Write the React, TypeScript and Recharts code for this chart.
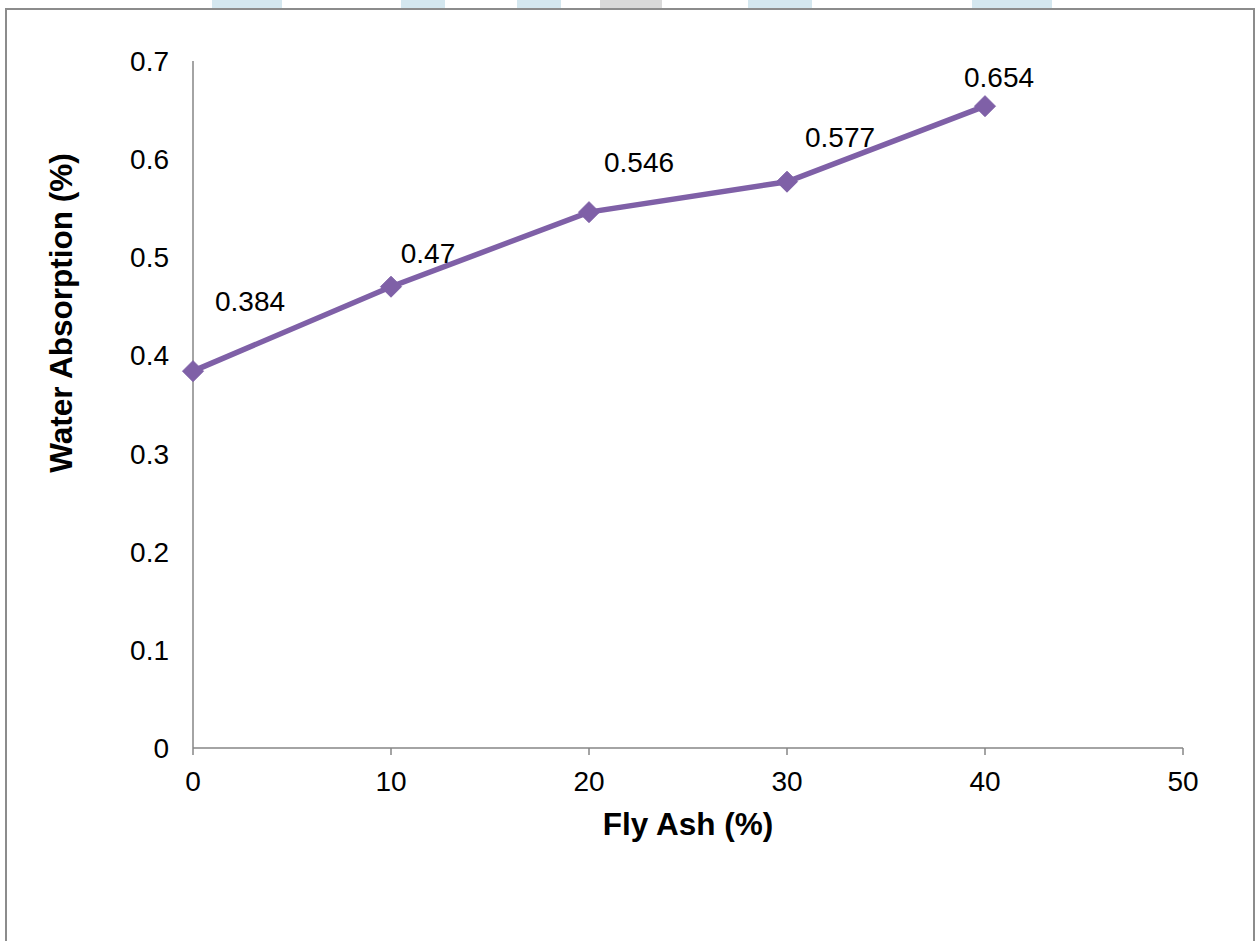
import React from "react";
import { LineChart, Line, XAxis, YAxis, LabelList, Label } from "recharts";

// Fly ash replacement (%) and measured water absorption (%)
const flyAsh = [0, 10, 20, 30, 40];
const waterAbsorption = [0.384, 0.47, 0.546, 0.577, 0.654];

const xTicks = [0, 10, 20, 30, 40, 50];
const yTicks = [0, 0.1, 0.2, 0.3, 0.4, 0.5, 0.6, 0.7];
const yTickLabels = ["0", "0.1", "0.2", "0.3", "0.4", "0.5", "0.6", "0.7"];

const xTitle = "Fly Ash (%)";
const yTitle = "Water Absorption (%)";

const data = flyAsh.map((x, i) => ({ flyAsh: x, water: waterAbsorption[i] }));

// Hand-placed data label offsets (label centre relative to the point)
const labelOffsets: [number, number][] = [
  [57, -70],
  [37, -33],
  [50, -50],
  [53, -44],
  [14, -29],
];

const PURPLE = "#7F60A7";
const AXIS = "#868686";
const FONT = "Arial, 'Liberation Sans', sans-serif";

const Diamond = (props: any) => {
  const { cx, cy } = props;
  if (cx == null || cy == null) return null;
  const r = 10.5;
  return (
    <polygon
      points={`${cx},${cy - r} ${cx + r},${cy} ${cx},${cy + r} ${cx - r},${cy}`}
      fill={PURPLE}
      stroke={PURPLE}
      strokeWidth={1}
    />
  );
};

const DataLabel = (props: any) => {
  const { x, y, value, index } = props;
  const [dx, dy] = labelOffsets[index] || [0, -20];
  return (
    <text
      x={x + dx}
      y={y + dy}
      textAnchor="middle"
      dominantBaseline="central"
      fontFamily={FONT}
      fontSize={28}
      fill="#000"
    >
      {String(value)}
    </text>
  );
};

const topBlocks = [
  { left: 212, width: 70, color: "#d4e7ef" },
  { left: 401, width: 44, color: "#d4e7ef" },
  { left: 517, width: 44, color: "#d4e7ef" },
  { left: 600, width: 62, color: "#d9d9d9" },
  { left: 748, width: 64, color: "#d4e7ef" },
  { left: 972, width: 80, color: "#d4e7ef" },
];

export default function App() {
  return (
    <div
      style={{
        position: "absolute",
        left: 0,
        top: 0,
        width: 1257,
        height: 941,
        background: "#fff",
        overflow: "hidden",
      }}
    >
      {topBlocks.map((b, i) => (
        <div
          key={i}
          style={{
            position: "absolute",
            top: 0,
            left: b.left,
            width: b.width,
            height: 8,
            background: b.color,
          }}
        />
      ))}
      <div
        style={{
          position: "absolute",
          left: 5,
          top: 8,
          width: 1246,
          height: 960,
          border: "2px solid #8c8c8c",
        }}
      />
      <div style={{ position: "absolute", left: 0, top: 0 }}>
        <LineChart
          width={1257}
          height={941}
          data={data}
          margin={{ top: 61, right: 74, bottom: 163, left: 133 }}
        >
          <XAxis
            dataKey="flyAsh"
            type="number"
            domain={[0, 50]}
            ticks={xTicks}
            interval={0}
            height={30}
            stroke={AXIS}
            strokeWidth={1.5}
            tickSize={7}
            tickMargin={16}
            tick={{ fill: "#000", fontSize: 28, fontFamily: FONT }}
          >
            <Label
              content={(p: any) => {
                const vb = p.viewBox;
                return (
                  <text
                    x={vb.x + vb.width / 2}
                    y={824}
                    textAnchor="middle"
                    dominantBaseline="central"
                    fontFamily={FONT}
                    fontWeight="bold"
                    fontSize={31.5}
                    fill="#000"
                  >
                    {xTitle}
                  </text>
                );
              }}
            />
          </XAxis>
          <YAxis
            type="number"
            domain={[0, 0.7]}
            ticks={yTicks}
            interval={0}
            width={60}
            stroke={AXIS}
            strokeWidth={1.5}
            tickLine={false}
            tickSize={0}
            tickMargin={24}
            tickFormatter={(v: number) => yTickLabels[yTicks.indexOf(v)] ?? String(v)}
            tick={{ fill: "#000", fontSize: 28, fontFamily: FONT }}
          >
            <Label
              content={() => (
                <text
                  x={61}
                  y={313}
                  transform="rotate(-90 61 313)"
                  textAnchor="middle"
                  dominantBaseline="central"
                  fontFamily={FONT}
                  fontWeight="bold"
                  fontSize={31.5}
                  fill="#000"
                >
                  {yTitle}
                </text>
              )}
            />
          </YAxis>
          <Line
            dataKey="water"
            stroke={PURPLE}
            strokeWidth={5.5}
            dot={<Diamond />}
            activeDot={false}
            isAnimationActive={false}
          >
            <LabelList dataKey="water" content={<DataLabel />} />
          </Line>
        </LineChart>
      </div>
    </div>
  );
}
